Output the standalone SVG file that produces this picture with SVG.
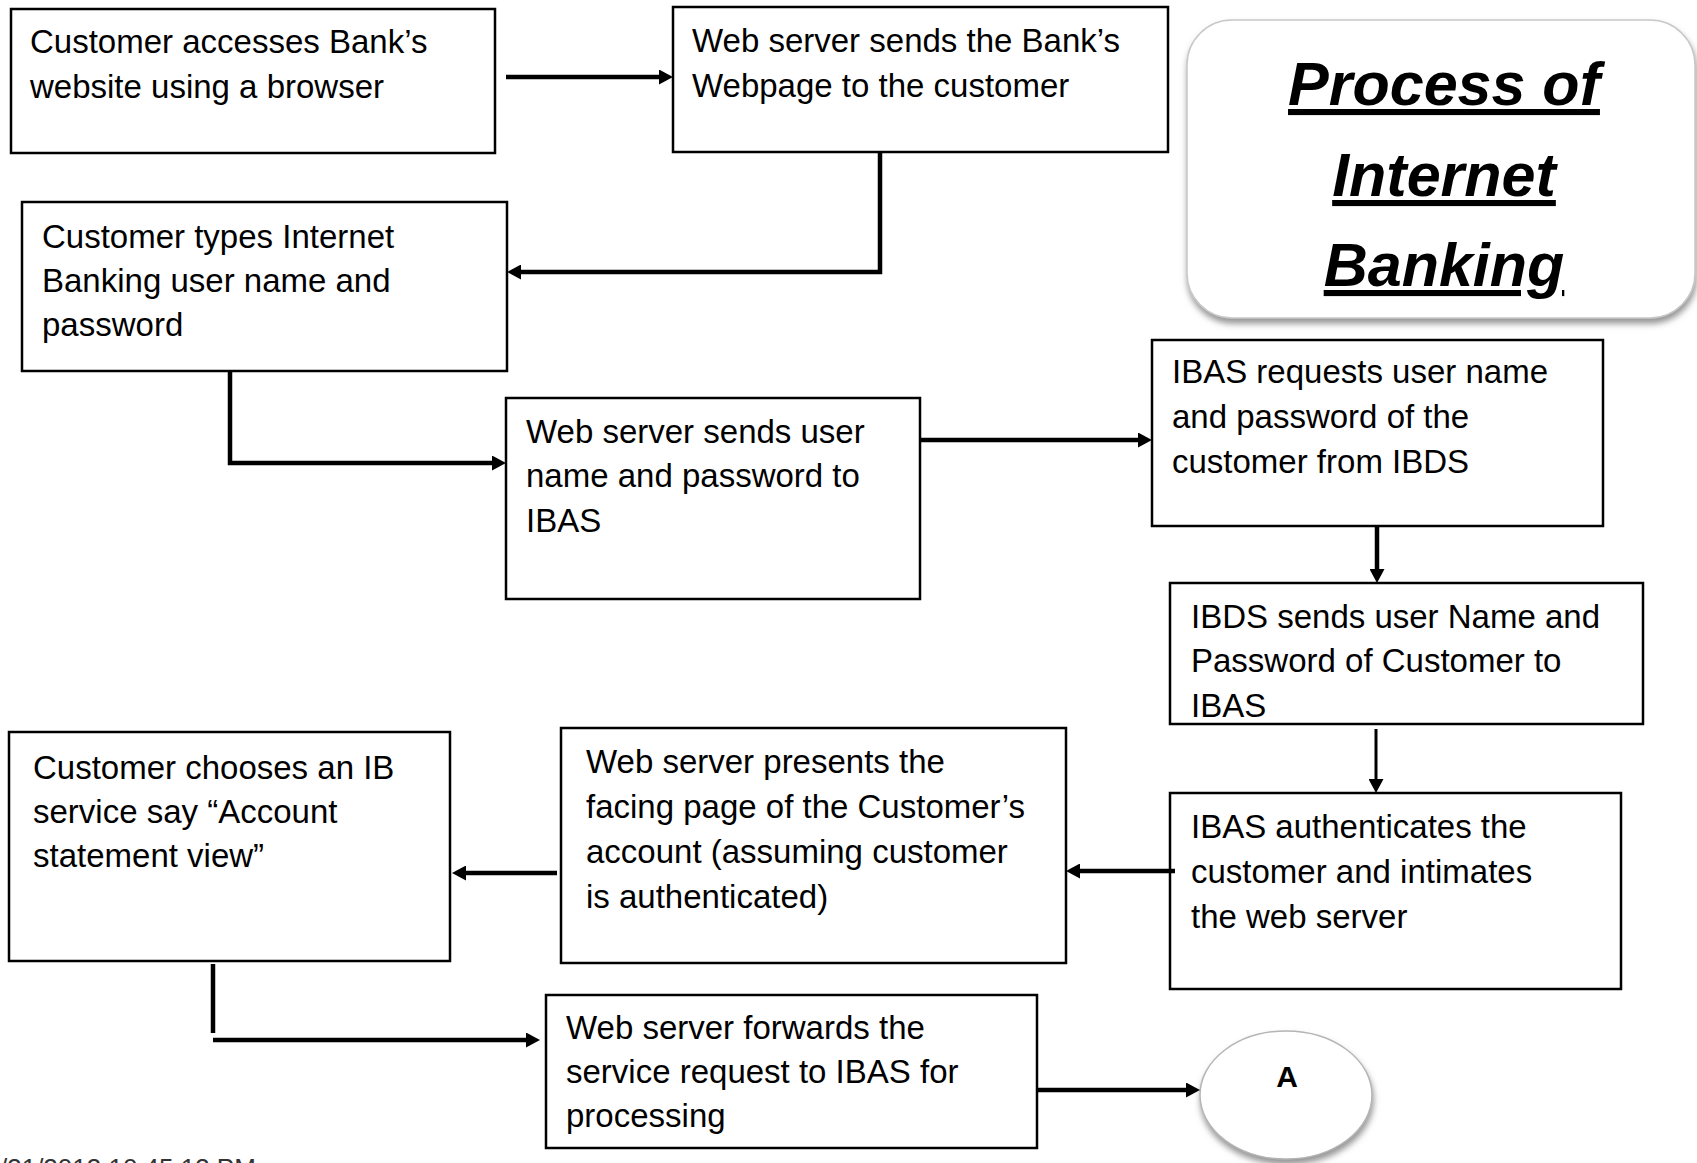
<svg xmlns="http://www.w3.org/2000/svg" width="1697" height="1163" viewBox="0 0 1697 1163">
  <style>
    .box { fill: #ffffff; stroke: #000000; stroke-width: 2.5; }
    .lbl { font-family: "Liberation Sans", Arial, sans-serif; font-size: 33px; fill: #000000; }
    .wire { fill: none; stroke: #000000; stroke-width: 4.5; }
    .thin { stroke-width: 3; }
    .title { font-family: "Liberation Sans", Arial, sans-serif; font-size: 61px; font-weight: bold; font-style: italic; text-decoration: underline; fill: #000000; }
    .conn { font-family: "Liberation Sans", Arial, sans-serif; font-size: 30px; font-weight: bold; fill: #000000; }
    .stamp { font-family: "Liberation Sans", Arial, sans-serif; font-size: 26px; fill: #333333; }
  </style>
  <defs>
    <marker id="head" viewBox="0 -7.5 14 15" refX="0" refY="0" markerWidth="14" markerHeight="15" markerUnits="userSpaceOnUse" orient="auto">
      <path d="M0,-7.5 L14,0 L0,7.5 z" fill="#000000"/>
    </marker>
    <filter id="soft" x="-10%" y="-10%" width="125%" height="130%">
      <feDropShadow dx="1" dy="5" stdDeviation="3" flood-color="#7a7a7a" flood-opacity="0.8"/>
    </filter>
  </defs>

  <rect width="1697" height="1163" fill="#ffffff"/>

  <!-- title panel -->
  <g id="title">
    <rect x="1187" y="20" width="508" height="298" rx="45" ry="45" fill="#ffffff" stroke="#c8c8c8" stroke-width="1.5" filter="url(#soft)"/>
    <text class="title" x="1444" y="105" text-anchor="middle">Process of</text>
    <text class="title" x="1444" y="196" text-anchor="middle">Internet</text>
    <text class="title" x="1444" y="286" text-anchor="middle">Banking</text>
  </g>

  <!-- process steps -->
  <g id="step-access">
    <rect class="box" x="11" y="9" width="484" height="144"/>
    <text class="lbl" x="30" y="53">Customer accesses Bank’s</text>
    <text class="lbl" x="30" y="98">website using a browser</text>
  </g>

  <g id="step-webpage">
    <rect class="box" x="673" y="7" width="495" height="145"/>
    <text class="lbl" x="692" y="52">Web server sends the Bank’s</text>
    <text class="lbl" x="692" y="97">Webpage to the customer</text>
  </g>

  <g id="step-login">
    <rect class="box" x="22" y="202" width="485" height="169"/>
    <text class="lbl" x="42" y="248">Customer types Internet</text>
    <text class="lbl" x="42" y="292">Banking user name and</text>
    <text class="lbl" x="42" y="336">password</text>
  </g>

  <g id="step-forward-credentials">
    <rect class="box" x="506" y="398" width="414" height="201"/>
    <text class="lbl" x="526" y="443">Web server sends user</text>
    <text class="lbl" x="526" y="487">name and password to</text>
    <text class="lbl" x="526" y="532">IBAS</text>
  </g>

  <g id="step-ibas-request">
    <rect class="box" x="1152" y="340" width="451" height="186"/>
    <text class="lbl" x="1172" y="383">IBAS requests user name</text>
    <text class="lbl" x="1172" y="428">and password of the</text>
    <text class="lbl" x="1172" y="473">customer from IBDS</text>
  </g>

  <g id="step-ibds-reply">
    <rect class="box" x="1170" y="583" width="473" height="141"/>
    <text class="lbl" x="1191" y="628">IBDS sends user Name and</text>
    <text class="lbl" x="1191" y="672">Password of Customer to</text>
    <text class="lbl" x="1191" y="717">IBAS</text>
  </g>

  <g id="step-authenticate">
    <rect class="box" x="1170" y="793" width="451" height="196"/>
    <text class="lbl" x="1191" y="838">IBAS authenticates the</text>
    <text class="lbl" x="1191" y="883">customer and intimates</text>
    <text class="lbl" x="1191" y="928">the web server</text>
  </g>

  <g id="step-facing-page">
    <rect class="box" x="561" y="728" width="505" height="235"/>
    <text class="lbl" x="586" y="773">Web server presents the</text>
    <text class="lbl" x="586" y="818">facing page of the Customer’s</text>
    <text class="lbl" x="586" y="863">account (assuming customer</text>
    <text class="lbl" x="586" y="908">is authenticated)</text>
  </g>

  <g id="step-choose-service">
    <rect class="box" x="9" y="732" width="441" height="229"/>
    <text class="lbl" x="33" y="779">Customer chooses an IB</text>
    <text class="lbl" x="33" y="823">service say “Account</text>
    <text class="lbl" x="33" y="867">statement view”</text>
  </g>

  <g id="step-service-request">
    <rect class="box" x="546" y="995" width="491" height="153"/>
    <text class="lbl" x="566" y="1039">Web server forwards the</text>
    <text class="lbl" x="566" y="1083">service request to IBAS for</text>
    <text class="lbl" x="566" y="1127">processing</text>
  </g>

  <g id="connector-a">
    <ellipse cx="1286" cy="1095" rx="86" ry="64" fill="#ffffff" stroke="#b5b5b5" stroke-width="1.5" filter="url(#soft)"/>
    <text class="conn" x="1287" y="1087" text-anchor="middle">A</text>
  </g>

  <!-- flow connectors -->
  <g id="connectors">
    <path class="wire" d="M506,77 H659" marker-end="url(#head)"/>
    <path class="wire" d="M880,152 V272 H521" marker-end="url(#head)"/>
    <path class="wire" d="M230,371 V463 H492" marker-end="url(#head)"/>
    <path class="wire" d="M920,440 H1138" marker-end="url(#head)"/>
    <path class="wire" d="M1377,526 V569" marker-end="url(#head)"/>
    <path class="wire thin" d="M1376,729 V779" marker-end="url(#head)"/>
    <path class="wire" d="M1175,871 H1080" marker-end="url(#head)"/>
    <path class="wire" d="M557,873 H466" marker-end="url(#head)"/>
    <path class="wire" d="M213,964 V1033"/>
    <path class="wire" d="M213,1040 H526" marker-end="url(#head)"/>
    <path class="wire" d="M1037,1090 H1186" marker-end="url(#head)"/>
  </g>

  <!-- print stamp along the lower edge -->
  <text class="stamp" x="0" y="1177">/31/2013 10:45:13 PM</text>
</svg>
